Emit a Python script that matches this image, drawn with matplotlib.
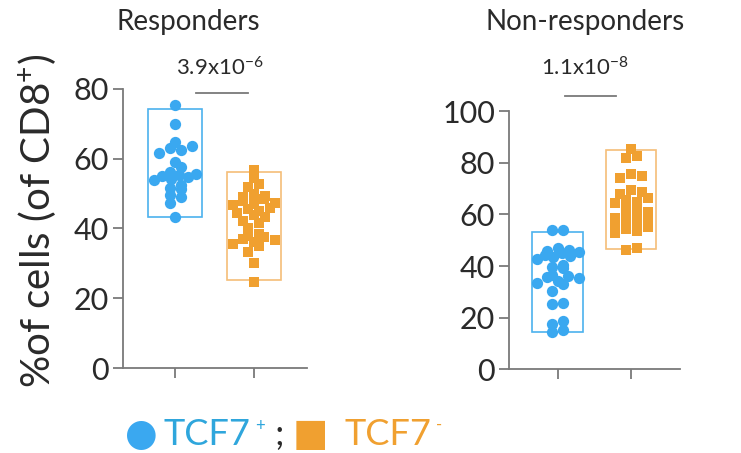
import numpy as np
import matplotlib
matplotlib.use("Agg")
import matplotlib.pyplot as plt

plt.rcParams['font.family'] = ['Lato', 'DejaVu Sans']
plt.rcParams['mathtext.fontset'] = 'custom'
plt.rcParams['mathtext.rm'] = 'Lato'
plt.rcParams['mathtext.it'] = 'Lato:italic'
plt.rcParams['mathtext.bf'] = 'Lato:bold'

BLUE = '#3aa8f0'
BLUE_BOX = '#4cb2ee'
BLUE_TXT = '#2fa6dc'
ORANGE = '#f0a030'
ORANGE_BOX = '#f5be78'
GREY = '#7a7a7a'
DARK = '#2a2a2a'

# Daten
panel_titles = ['Responders', 'Non-responders']
p_values = ['3.9x10$^{-6}$', '1.1x10$^{-8}$']

resp_pos = [75.4, 70.1, 64.8, 63.6, 63.2, 62.4, 61.6, 59.1, 57.7, 56.3, 55.7, 55.2,
            54.8, 54.3, 53.9, 55.0, 52.4, 51.7, 51.2, 49.6, 48.9, 47.3, 43.4]
resp_neg = [56.9, 54.4, 52.8, 52.0, 49.8, 49.3, 48.9, 48.5, 47.9, 47.4, 47.0, 46.6,
            46.0, 45.5, 45.1, 44.3, 43.8, 43.4, 42.2, 41.6, 40.1, 38.3, 37.9, 37.5,
            37.1, 36.8, 36.0, 35.5, 35.1, 33.3, 30.0, 24.7]
nonresp_pos = [54.1, 53.8, 46.8, 46.3, 45.9, 45.4, 45.0, 44.3, 43.8, 43.4, 42.9, 40.2,
               39.6, 39.1, 36.6, 36.1, 35.6, 35.2, 34.1, 33.6, 33.1, 30.4, 25.8, 25.2,
               18.8, 17.5, 15.2, 14.6]
nonresp_neg = [85.5, 82.6, 81.8, 75.8, 75.0, 74.3, 69.4, 68.7, 67.9, 66.2, 65.6, 65.0,
               64.4, 62.2, 61.6, 61.0, 60.4, 59.2, 58.6, 58.0, 57.4, 56.2, 55.6, 55.0,
               54.4, 53.4, 52.6, 46.8, 46.2]

# Box = Bereich (unten, oben) je Gruppe
resp_box_low = [43.3, 25.2]
resp_box_high = [74.2, 56.2]
nonresp_box_low = [14.6, 46.5]
nonresp_box_high = [53.0, 85.0]

resp_yticks = [0, 20, 40, 60, 80]
nonresp_yticks = [0, 20, 40, 60, 80, 100]


def swarm_x(ax, x0, values, row_px=7.0, step=11.0, wmax=21.0):
    # Punkte in Zeilen gruppieren (Pixelabstand) und je Zeile gleichmaessig verteilen
    pts = ax.transData.transform(np.column_stack([np.full(len(values), x0), values]))
    ys = pts[:, 1]
    order = np.argsort(ys)
    rows, cur = [], [order[0]]
    for idx in order[1:]:
        if ys[idx] - ys[cur[0]] < row_px:
            cur.append(idx)
        else:
            rows.append(cur)
            cur = [idx]
    rows.append(cur)
    xs = np.zeros(len(values))
    for row in rows:
        n = len(row)
        if n > 1:
            s = min(step, 2 * wmax / (n - 1))
            slots = list(range(0, n, 2)) + list(range(1, n, 2))
            for k, idx in zip(slots, row):
                xs[idx] = (k - (n - 1) / 2) * s
    disp = np.column_stack([pts[:, 0] + xs, ys])
    return ax.transData.inverted().transform(disp)[:, 0]


fig = plt.figure(figsize=(7.41, 4.53), dpi=100)
ax_l = fig.add_axes([0.166, 0.1876, 0.248, 0.616])
ax_r = fig.add_axes([0.687, 0.185, 0.231, 0.5695])

panels = [
    (ax_l, resp_pos, resp_neg, resp_box_low, resp_box_high, resp_yticks),
    (ax_r, nonresp_pos, nonresp_neg, nonresp_box_low, nonresp_box_high, nonresp_yticks),
]

for i, (ax, pos_vals, neg_vals, lo, hi, yt) in enumerate(panels):
    ax.set_xlim(-0.66, 1.67)
    ax.set_ylim(yt[0], yt[-1])

    # Boxen
    ax.bar([0, 1], np.array(hi) - np.array(lo), bottom=lo, width=0.69, fill=False,
           edgecolor=[BLUE_BOX, ORANGE_BOX], linewidth=1.2, zorder=1)
    # Punkte
    ax.scatter(swarm_x(ax, 0, pos_vals), pos_vals, s=66, marker='o', color=BLUE,
               linewidths=0, zorder=3, clip_on=False)
    ax.scatter(swarm_x(ax, 1, neg_vals), neg_vals, s=56, marker='s', color=ORANGE,
               linewidths=0, zorder=3, clip_on=False)

    ax.set_yticks(yt)
    ax.set_xticks([0, 1])
    ax.set_xticklabels(['', ''])
    for s in ['top', 'right']:
        ax.spines[s].set_visible(False)
    for s in ['left', 'bottom']:
        ax.spines[s].set_color(GREY)
        ax.spines[s].set_linewidth(1.3)
    ax.tick_params(direction='out', length=7, width=1.3, color=GREY,
                   labelcolor=DARK, labelsize=22, pad=3)

    # Signifikanz-Linie
    top = yt[-1]
    if i == 0:
        x0, x1, yl = 0.27, 0.92, top * 0.985
    else:
        x0, x1, yl = 0.10, 0.80, top * 1.06
    ax.plot([x0, x1], [yl, yl], color=GREY, lw=1.3, clip_on=False)

fig.text(0.296, 0.851, p_values[0], ha='center', va='center', fontsize=16, color=DARK)
fig.text(0.789, 0.851, p_values[1], ha='center', va='center', fontsize=16, color=DARK)

fig.text(0.254, 0.951, panel_titles[0], ha='center', va='center', fontsize=20, color=DARK)
fig.text(0.789, 0.951, panel_titles[1], ha='center', va='center', fontsize=20, color=DARK)

fig.text(0.05, 1 - 221 / 453, '%of cells (of CD8$^{+}$)', rotation=90, ha='center',
         va='center', fontsize=29, color=DARK)

# Legende als Textzeile: (text, farbe, groesse, hoehe, abstand davor, familie)
legend_parts = [
    ('\u25cf', BLUE, 27, 0, 0, ['DejaVu Sans']),
    ('TCF7', BLUE_TXT, 26, 0, 6, None),
    ('+', BLUE_TXT, 12, 14, 5, None),
    (';', DARK, 26, 0, 9, None),
    ('\u25a0', ORANGE, 27, 0, 9, ['DejaVu Sans']),
    ('TCF7', ORANGE, 26, 0, 16, None),
    ('-', ORANGE, 12, 15, 5, None),
]
renderer = fig.canvas.get_renderer()
x_px, base_px = 125, 453 - 445
for txt, col, size, dy, gap, fam in legend_parts:
    kw = dict(color=col, fontsize=size, ha='left', va='baseline')
    if fam is not None:
        kw['family'] = fam
    x_px += gap
    t = fig.text(x_px / 741, (base_px + dy) / 453, txt, **kw)
    x_px = t.get_window_extent(renderer).x1

fig.savefig('out.png', dpi=100)
